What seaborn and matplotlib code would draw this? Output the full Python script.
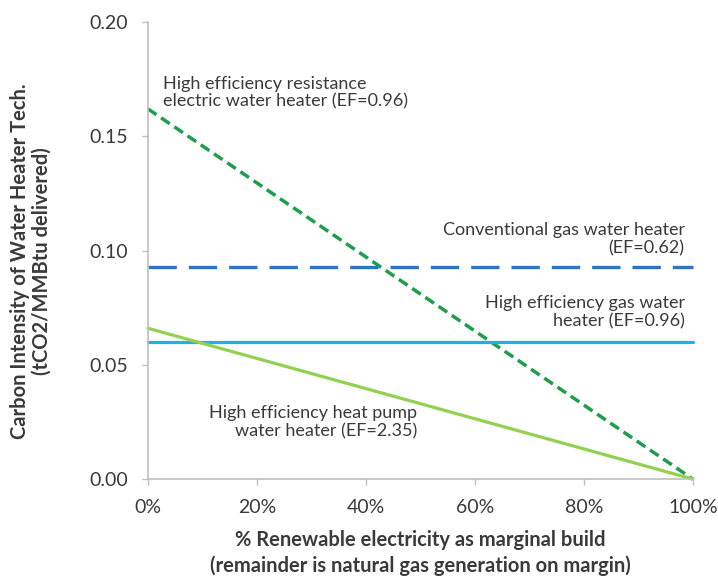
import pandas as pd
import matplotlib.pyplot as plt
import matplotlib.ticker as mticker
import seaborn as sns

# values
renewable_pct = [0, 100]
resistance_electric = [0.162, 0.0]
conventional_gas = [0.093, 0.093]
high_eff_gas = [0.060, 0.060]
heat_pump = [0.066, 0.0]

x_ticks = [0, 20, 40, 60, 80, 100]
y_ticks = [0.00, 0.05, 0.10, 0.15, 0.20]

sns.set_theme(style='ticks')
plt.rcParams['font.family'] = ['Lato', 'DejaVu Sans']

grey = '#BFBFBF'
text_col = '#3A3A3A'

fig = plt.figure(figsize=(7.18, 5.80), dpi=100)
ax = fig.add_axes([0.206, 0.174, 0.759, 0.788])

sns.lineplot(x=renewable_pct, y=resistance_electric, ax=ax, color='#1E9E4A',
             linewidth=2.5, linestyle=(0, (3.0, 1.6)))
sns.lineplot(x=renewable_pct, y=conventional_gas, ax=ax, color='#2E73C4',
             linewidth=2.4, linestyle=(0, (8.5, 3.6)))
sns.lineplot(x=renewable_pct, y=high_eff_gas, ax=ax, color='#1FB0E6',
             linewidth=2.3)
sns.lineplot(x=renewable_pct, y=heat_pump, ax=ax, color='#92D050',
             linewidth=2.3)

ax.set_xlim(0, 100)
ax.set_ylim(0, 0.20)
ax.set_xticks(x_ticks)
ax.set_yticks(y_ticks)
ax.xaxis.set_major_formatter(mticker.FuncFormatter(lambda v, p: f'{v:.0f}%'))
ax.yaxis.set_major_formatter(mticker.FormatStrFormatter('%.2f'))
ax.tick_params(axis='both', colors=grey, labelcolor=text_col, labelsize=14,
               length=4.3, width=1, direction='out', pad=10)
for s in ['top', 'right']:
    ax.spines[s].set_visible(False)
for s in ['left', 'bottom']:
    ax.spines[s].set_color(grey)
    ax.spines[s].set_linewidth(1.2)
for ln in ax.lines:
    ln.set_clip_on(False)

ax.set_xlabel('% Renewable electricity as marginal build\n(remainder is natural gas generation on margin)',
              fontsize=14.5, fontweight='bold', color=text_col, linespacing=1.3)
ax.xaxis.set_label_coords(0.5, -0.112)
ax.set_ylabel('Carbon Intensity of Water Heater Tech.\n(tCO2/MMBtu delivered)',
              fontsize=14.5, fontweight='bold', color=text_col, linespacing=1.15)
ax.yaxis.set_label_coords(-0.176, 0.477)

ann = dict(fontsize=13, color=text_col, linespacing=1.15)
ax.text(2.75, 0.169, 'High efficiency resistance\nelectric water heater (EF=0.96)',
        ha='left', va='center', **ann)
ax.text(98.5, 0.105, 'Conventional gas water heater\n(EF=0.62)',
        ha='right', va='center', **ann)
ax.text(98.5, 0.0729, 'High efficiency gas water\nheater (EF=0.96)',
        ha='right', va='center', **ann)
ax.text(49.4, 0.025, 'High efficiency heat pump\nwater heater (EF=2.35)',
        ha='right', va='center', **ann)

fig.savefig('out.png', dpi=100)
